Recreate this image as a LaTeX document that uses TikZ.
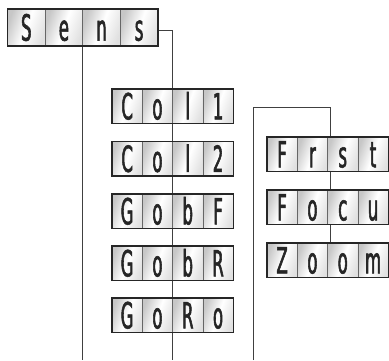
\documentclass[tikz,border=0pt]{standalone}
\usepackage{fontspec}
\setmainfont{DejaVu Sans}
\newfontfamily\dispfont{DejaVu Sans}[FakeStretch=0.46, FakeBold=1.5]
\usetikzlibrary{fit,backgrounds}
\tikzset{
  cellbase/.style={draw=black!60, line width=0.7pt, inner sep=0pt, outer sep=0pt,
    left color=black!22, right color=black!12, middle color=white, shading angle=70,
    text=black!85, font=\dispfont\fontsize{36}{36}\selectfont, text height=26.2pt, text depth=0pt},
  cellbig/.style={cellbase, minimum width=37.6pt, minimum height=37pt},
  cellsmall/.style={cellbase, minimum width=30.3pt, minimum height=34.5pt},
  frame/.style={draw=black!85, line width=1.2pt, inner sep=0pt, outer sep=0pt},
  conn/.style={draw=black!75, line width=0.8pt}
}
\newcommand\dispbox[8]{%
  \node[#4, anchor=north west] (#1-1) at (#2,#3) {#5};
  \node[#4, anchor=west] (#1-2) at (#1-1.east) {#6};
  \node[#4, anchor=west] (#1-3) at (#1-2.east) {#7};
  \node[#4, anchor=west] (#1-4) at (#1-3.east) {#8};
  \node[frame, fit=(#1-1)(#1-4)] (#1) {};
}
\begin{document}
\begin{tikzpicture}[x=1pt,y=-1pt]
\useasboundingbox (0,0) rectangle (389,360);
\coordinate (bot) at (0,360);
\dispbox{sens}{7.5}{9}{cellbig}{S}{e}{n}{s}
\dispbox{cola}{112}{89}{cellsmall}{C}{o}{l}{1}
\dispbox{colb}{112}{141.5}{cellsmall}{C}{o}{l}{2}
\dispbox{gobf}{112}{194}{cellsmall}{G}{o}{b}{F}
\dispbox{gobr}{112}{246}{cellsmall}{G}{o}{b}{R}
\dispbox{goro}{112}{298}{cellsmall}{G}{o}{R}{o}
\dispbox{frst}{267}{137}{cellsmall}{F}{r}{s}{t}
\dispbox{focu}{267}{190}{cellsmall}{F}{o}{c}{u}
\dispbox{zoom}{267}{243}{cellsmall}{Z}{o}{o}{m}
\coordinate (knee) at (253,107);
\begin{scope}[on background layer]
\draw[conn] (sens.south) -- (sens.south |- bot);
\draw[conn] ([yshift=-3pt]sens.east) -| (cola-2.south east |- bot);
\draw[conn] (knee |- bot) -- (knee) -| ([xshift=3pt]zoom-2.north east);
\end{scope}
\end{tikzpicture}
\end{document}
